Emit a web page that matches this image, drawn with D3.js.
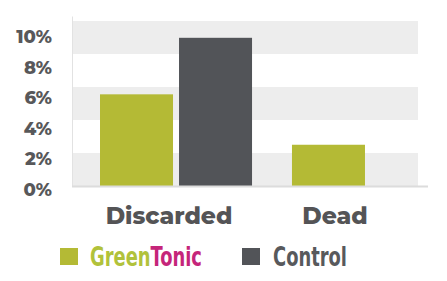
<!DOCTYPE html>
<html><head><meta charset="utf-8">
<script src="https://cdn.jsdelivr.net/npm/d3@7"></script>
<style>html,body{margin:0;padding:0;background:#fff;}svg{display:block;}</style>
</head><body>
<svg id="chart" width="447" height="281"></svg>
<script>
const categories = ["Discarded", "Dead"];
const series = ["GreenTonic", "Control"];
const greenTonic = [6.0, 2.7];
const control = [9.7, null];
const yTicks = [0, 2, 4, 6, 8, 10];
const tickLabels = ["0%", "2%", "4%", "6%", "8%", "10%"];

const colors = { GreenTonic: "#b4ba35", Control: "#525458" };
const svg = d3.select("#chart");
const L = 72, R = 418, T = 21, B = 186;

const y = d3.scaleLinear().domain([0, 10.8]).range([B, T]);
const x0 = d3.scaleBand().domain(categories).range([100, 444]).paddingInner(0.208).paddingOuter(0);
const x1 = d3.scaleBand().domain(series).range([0, x0.bandwidth()]).paddingInner(0.076);
const xLabel = d3.scaleBand().domain(categories).range([86, 418]);

// stripes
const nStripes = 5, dMax = y.domain()[1];
svg.append("g").selectAll("rect").data(d3.range(nStripes).filter(i => i % 2 === 0)).join("rect")
  .attr("x", L).attr("width", R - L)
  .attr("y", i => y((i + 1) * dMax / nStripes))
  .attr("height", i => y(i * dMax / nStripes) - y((i + 1) * dMax / nStripes))
  .attr("fill", "#ededed");

// bars
const rows = categories.map((c, i) => ({ c, vals: [{ s: "GreenTonic", v: greenTonic[i] }, { s: "Control", v: control[i] }] }));
svg.append("g").selectAll("g").data(rows).join("g")
  .attr("transform", d => `translate(${x0(d.c)},0)`)
  .selectAll("rect").data(d => d.vals.filter(e => e.v != null)).join("rect")
  .attr("x", e => x1(e.s)).attr("width", x1.bandwidth())
  .attr("y", e => y(e.v)).attr("height", e => y(0) - y(e.v))
  .attr("fill", e => colors[e.s]);

// axis lines
svg.append("line").attr("x1", L + 0.5).attr("x2", L + 0.5).attr("y1", 16.5).attr("y2", B)
  .attr("stroke", "#e2e2e2").attr("stroke-width", 1);
svg.append("line").attr("x1", L).attr("x2", 428).attr("y1", B + 0.5).attr("y2", B + 0.5)
  .attr("stroke", "#dcdcdc").attr("stroke-width", 2);

// y axis labels
const yAxis = d3.axisLeft(y).tickValues(yTicks).tickFormat((d, i) => tickLabels[i]).tickSize(0).tickPadding(0);
const ga = svg.append("g").attr("transform", `translate(52,3.5)`).call(yAxis);
ga.select(".domain").remove();
ga.selectAll("text").attr("fill", "#58585a").attr("font-family", "Montserrat, 'Open Sans', sans-serif")
  .attr("font-weight", 800).attr("font-size", 18);

// x axis labels
const xAxis = d3.axisBottom(xLabel).tickSize(0).tickPadding(0);
const gx = svg.append("g").attr("transform", `translate(0,207)`).call(xAxis);
gx.select(".domain").remove();
gx.selectAll("text").attr("fill", "#545456").attr("font-family", "Montserrat, 'Open Sans', sans-serif")
  .attr("font-weight", 800).attr("font-size", 23.5).attr("dy", "0.71em");

// legend
const lg = svg.append("g");
const items = [
  { s: "GreenTonic", x: 60, tx: 90, w: 112, parts: [["Green", "#b1c23b"], ["Tonic", "#c5257a"]] },
  { s: "Control", x: 242, tx: 273, w: 74, parts: [["Control", "#58595c"]] }
];
items.forEach(it => {
  lg.append("rect").attr("x", it.x).attr("y", 248).attr("width", 18).attr("height", 17).attr("fill", colors[it.s]);
  const g = lg.append("g");
  const t = g.append("text").attr("x", 0).attr("y", 0)
    .attr("font-family", "'Liberation Sans Narrow', 'DejaVu Sans Condensed', sans-serif")
    .attr("font-weight", 700).attr("font-size", 27);
  it.parts.forEach(p => t.append("tspan").attr("fill", p[1]).text(p[0]));
  const nat = t.node().getComputedTextLength();
  g.attr("transform", `translate(${it.tx},266) scale(${it.w / nat},1)`);
});
</script>
</body></html>
